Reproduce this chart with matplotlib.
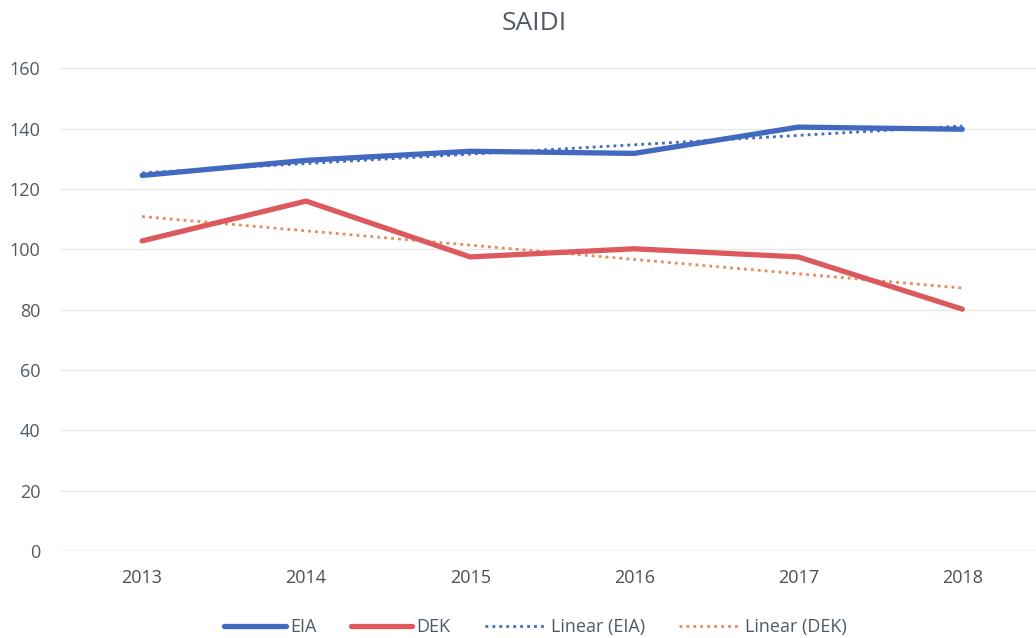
import numpy as np
import matplotlib
matplotlib.use("Agg")
import matplotlib.pyplot as plt

plt.rcParams['font.family'] = ['Open Sans', 'DejaVu Sans']

years = ['2013', '2014', '2015', '2016', '2017', '2018']
eia = [124.5, 129.5, 132.5, 131.8, 140.5, 139.8]
dek = [102.8, 116.0, 97.5, 100.2, 97.5, 80.2]
yticks = [0, 20, 40, 60, 80, 100, 120, 140, 160]

fig = plt.figure(figsize=(10.36, 6.38), dpi=100)
ax = fig.add_axes([0.058, 0.136, 0.95, 0.757])

x = np.arange(len(years))
ax.plot(x, eia, color='#4169C0', lw=3.8, solid_capstyle='round', label='EIA', zorder=3)
ax.plot(x, dek, color='#DC5A5E', lw=3.8, solid_capstyle='round', label='DEK', zorder=3)

pe = np.polyfit(x, eia, 1)
pd_ = np.polyfit(x, dek, 1)
ax.plot(x, np.polyval(pe, x), color='#4169C0', lw=2.0, ls=(0, (1, 1.5)), label='Linear (EIA)', zorder=4)
ax.plot(x, np.polyval(pd_, x), color='#E8895A', lw=2.0, ls=(0, (1, 1.5)), label='Linear (DEK)', zorder=2)

ax.set_xlim(-0.5, 5.5)
ax.set_ylim(0, 160)
ax.set_yticks(yticks)
ax.set_xticks(x)
ax.set_xticklabels(years)
ax.grid(axis='y', color='#E8E8E8', lw=1)
ax.set_axisbelow(True)
for s in ax.spines.values():
    s.set_visible(False)
ax.axhline(0, color='#D9D9D9', lw=1, zorder=1)
ax.tick_params(axis='x', length=0, labelsize=13, colors='#4A4F55', pad=13)
ax.tick_params(axis='y', length=0, labelsize=13, colors='#505A64', pad=14)

fig.text(0.516, 0.963, 'SAIDI', ha='center', va='center', fontsize=19, color='#505A64')

fig.legend(loc='center', bbox_to_anchor=(0.517, 0.017), ncol=4, frameon=False,
           fontsize=13, handlelength=3.4, columnspacing=1.9, handletextpad=0.25,
           labelcolor='#505A64')

fig.savefig('out.png', dpi=100, facecolor='white')
